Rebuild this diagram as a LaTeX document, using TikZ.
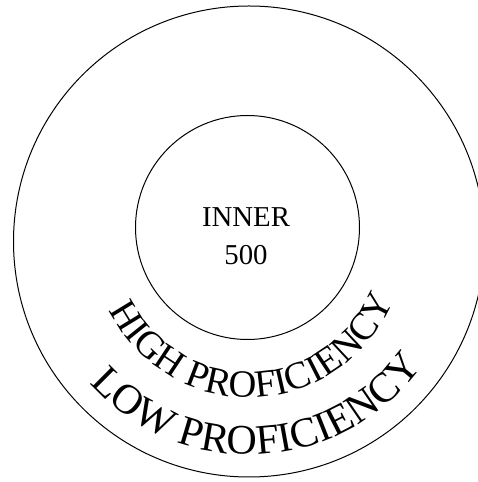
\documentclass[tikz,border=0pt]{standalone}
\usepackage{fontspec}
\setmainfont{Liberation Serif}
\usetikzlibrary{decorations.text}

\begin{document}
\begin{tikzpicture}[x=1pt, y=1pt,
  ring/.style={draw, circle, line width=1pt, inner sep=0pt},
  curved/.style={decorate, decoration={text along path, text align=center, text={#1}}}
]
  \useasboundingbox (0,0) rectangle (477,482);
  \coordinate (o) at (249,240.5);
  \node[ring, minimum size=471pt] (outer) at (o) {};
  \node[ring, minimum size=224pt] (inner) at (247.5,254.5) {};
  \node[font=\fontsize{28.8}{37.7}\selectfont, align=center] (label) at (246,245.5) {INNER\\500};

  % curved labels, centred on the outer ring
  \path[curved={|\fontsize{38.5}{44}\selectfont|HIGH PROFICIENCY}]
    ([shift={(182:156)}]o) arc[start angle=182, end angle=362, radius=156];
  \path[curved={|\fontsize{42}{48}\selectfont|LOW PROFICIENCY}]
    ([shift={(183:213)}]o) arc[start angle=183, end angle=363, radius=213];
\end{tikzpicture}
\end{document}
